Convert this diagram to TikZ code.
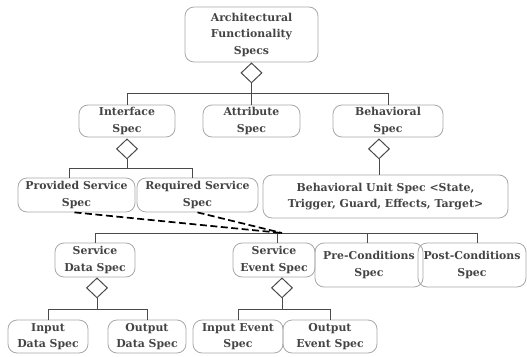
\documentclass[tikz,border=0pt]{standalone}
\usepackage{fontspec}
\setmainfont{DejaVu Serif}
\usetikzlibrary{shapes.geometric,calc}
\definecolor{txt}{HTML}{444444}
\definecolor{bord}{HTML}{A8A8A8}
\definecolor{conn}{HTML}{4A4A4A}
\begin{document}
\begin{tikzpicture}[x=1pt,y=-1pt,
  box/.style={draw=bord,line width=0.8pt,rounded corners=9pt,align=center,inner sep=0pt,
    text=txt,font=\fontsize{10.9}{16.5}\selectfont\bfseries},
  agg/.style={diamond,draw=conn,fill=white,line width=1pt,minimum width=21pt,minimum height=20pt,inner sep=0pt},
  cn/.style={draw=conn,line width=1pt},
  dsh/.style={draw=black,line width=1.7pt,dash pattern=on 7pt off 3.5pt}]
\useasboundingbox (0,0) rectangle (527,356);
% nodes
\node[box,minimum width=133pt,minimum height=55pt] (arch) at (251.5,34.5) {Architectural\\Functionality\\Specs};
\node[box,minimum width=96pt,minimum height=32pt] (iface) at (127,121) {Interface\\Spec};
\node[box,minimum width=97pt,minimum height=32pt] (attr) at (251.5,121) {Attribute\\Spec};
\node[box,minimum width=110pt,minimum height=32pt] (behav) at (388,121) {Behavioral\\Spec};
\node[box,minimum width=117pt,minimum height=34pt] (prov) at (76.5,195) {Provided Service\\Spec};
\node[box,minimum width=121pt,minimum height=34pt] (req) at (197.5,195) {Required Service\\Spec};
\node[box,minimum width=245pt,minimum height=43pt] (bunit) at (385.5,196.5) {Behavioral Unit Spec <State,\\Trigger, Guard, Effects, Target>};
\node[box,minimum width=80pt,minimum height=34pt] (sdata) at (95,260) {Service\\Data Spec};
\node[box,minimum width=82pt,minimum height=34pt] (sevent) at (274,260) {Service\\Event Spec};
\node[box,minimum width=108pt,minimum height=44pt] (pre) at (369,265) {Pre-Conditions\\Spec};
\node[box,minimum width=108pt,minimum height=44pt] (post) at (472,265) {Post-Conditions\\Spec};
\node[box,minimum width=80pt,minimum height=33pt] (indata) at (48,336.5) {Input\\Data Spec};
\node[box,minimum width=78pt,minimum height=33pt] (outdata) at (147,336.5) {Output\\Data Spec};
\node[box,minimum width=90pt,minimum height=33pt] (inevent) at (238,336.5) {Input Event\\Spec};
\node[box,minimum width=94pt,minimum height=33pt] (outevent) at (330,336.5) {Output\\Event Spec};
% diamonds
\node[agg,anchor=north] (d1) at (arch.south) {};
\node[agg,anchor=north] (d2) at ($(iface.south)+(0,1)$) {};
\node[agg,anchor=north] (d3) at ($(behav.south)+(-9,1)$) {};
\node[agg,anchor=north] (d4) at ($(sdata.south)+(2,0)$) {};
\node[agg,anchor=north] (d5) at ($(sevent.south)+(8,0)$) {};
% bus coordinates
\coordinate (b1) at (251.5,93);
\coordinate (b2) at (127,168);
\coordinate (b4) at (97,309);
\coordinate (b5) at (282,309);
\coordinate (conv) at (282,233);
% top tree
\draw[cn] (d1.south) -- (attr.north);
\draw[cn] (iface.north) -- (iface.north |- b1) -- (behav.north |- b1) -- (behav.north);
% interface tree
\draw[cn] (d2.south) -- (b2);
\draw[cn] ($(prov.north)+(-7,0)$) -- ($(prov.north |- b2)+(-7,0)$) -- ($(req.north |- b2)+(-5,0)$) -- ($(req.north)+(-5,0)$);
% behavioral
\draw[cn] (d3.south) -- (d3.south |- bunit.north);
% lower bus
\draw[cn] (sdata.north) -- (sdata.north |- conv) -- ($(post.north |- conv)+(5,0)$) -- ($(post.north)+(5,0)$);
\draw[cn] ($(sevent.north)+(3,0)$) -- ($(sevent.north |- conv)+(3,0)$);
\draw[cn] ($(pre.north)+(-2,0)$) -- ($(pre.north |- conv)+(-2,0)$);
% service data tree
\draw[cn] (d4.south) -- (b4);
\draw[cn] (indata.north) -- (indata.north |- b4) -- (outdata.north |- b4) -- (outdata.north);
% service event tree
\draw[cn] (d5.south) -- (b5);
\draw[cn] (inevent.north) -- (inevent.north |- b5) -- (outevent.north |- b5) -- (outevent.north);
% dashed links
\draw[dsh] ($(prov.south)+(-2,0)$) -- (conv);
\draw[dsh] (req.south) -- (conv);
\end{tikzpicture}
\end{document}
